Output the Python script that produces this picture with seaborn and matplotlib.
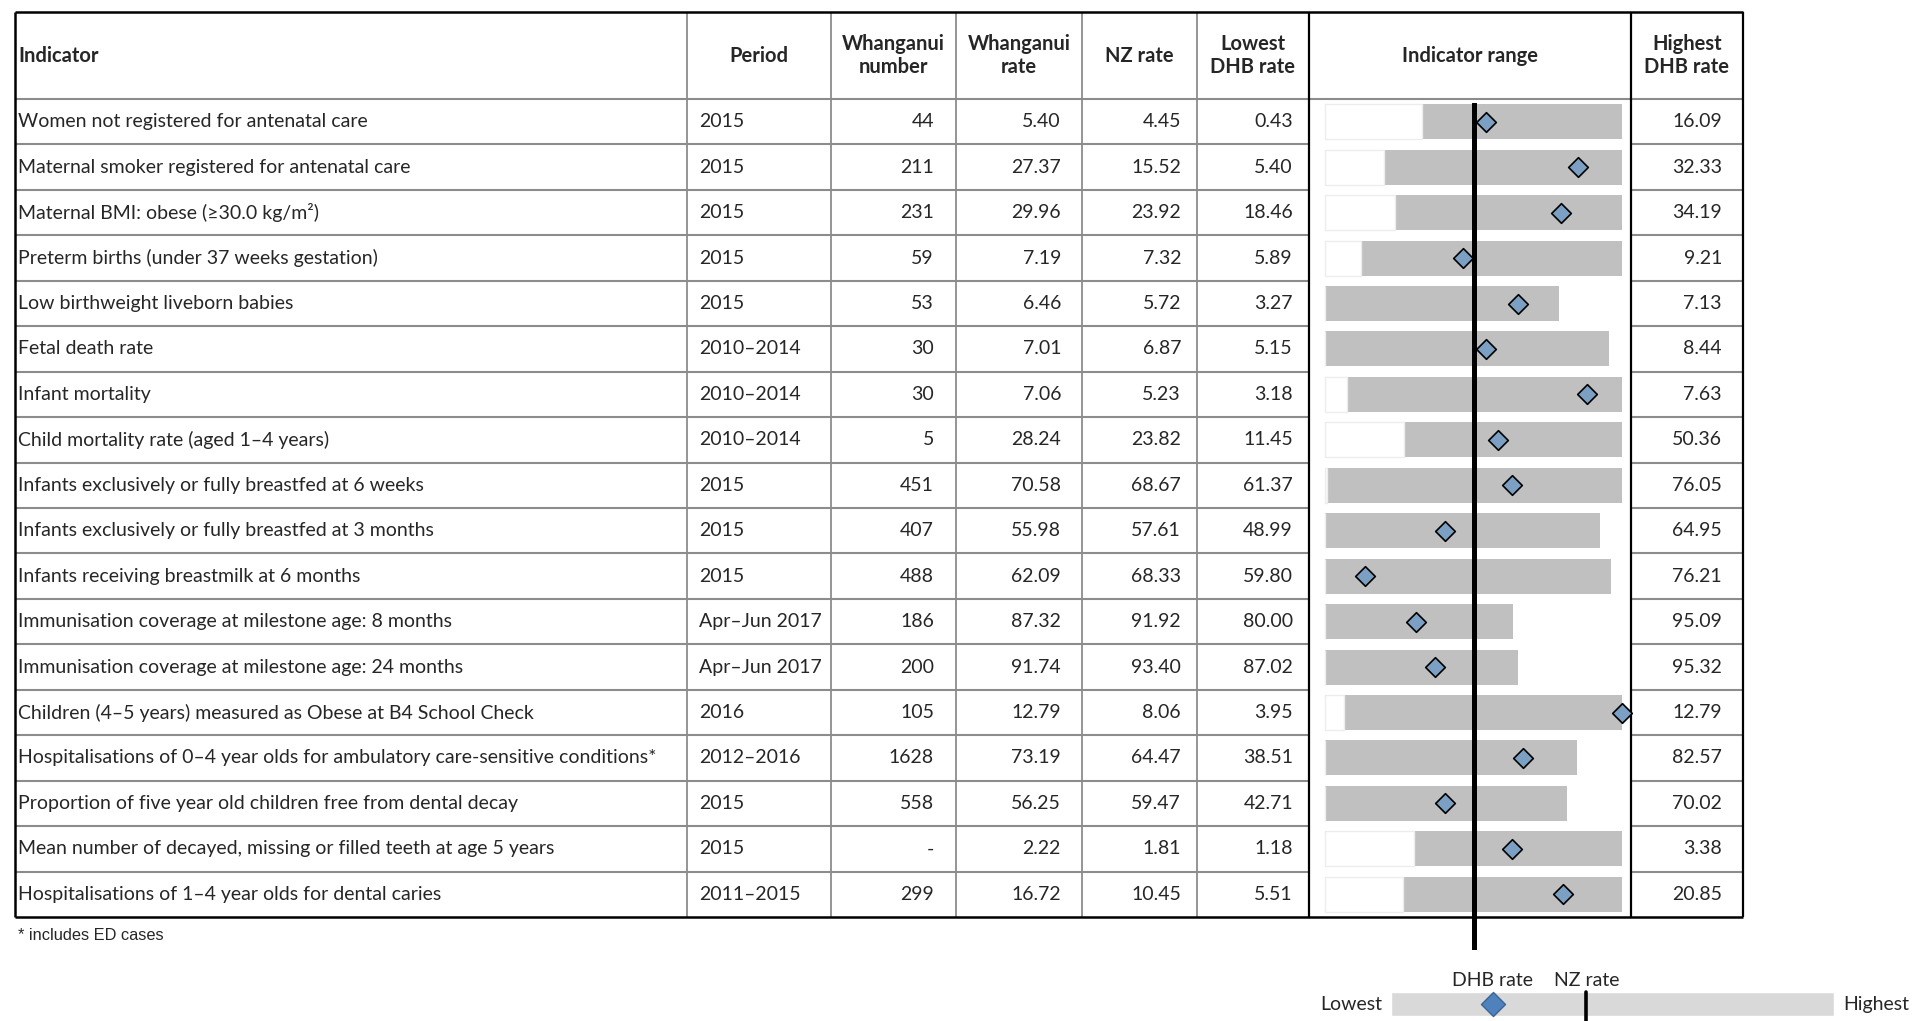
import numpy as np
import pandas as pd
import matplotlib
matplotlib.use('Agg')
import matplotlib.pyplot as plt
import seaborn as sns

# --- table data ---
indicators = [
    'Women not registered for antenatal care',
    'Maternal smoker registered for antenatal care',
    'Maternal BMI: obese (≥30.0 kg/m²)',
    'Preterm births (under 37 weeks gestation)',
    'Low birthweight liveborn babies',
    'Fetal death rate',
    'Infant mortality',
    'Child mortality rate (aged 1–4 years)',
    'Infants exclusively or fully breastfed at 6 weeks',
    'Infants exclusively or fully breastfed at 3 months',
    'Infants receiving breastmilk at 6 months',
    'Immunisation coverage at milestone age: 8 months',
    'Immunisation coverage at milestone age: 24 months',
    'Children (4–5 years) measured as Obese at B4 School Check',
    'Hospitalisations of 0–4 year olds for ambulatory care-sensitive conditions*',
    'Proportion of five year old children free from dental decay',
    'Mean number of decayed, missing or filled teeth at age 5 years',
    'Hospitalisations of 1–4 year olds for dental caries',
]
periods = ['2015', '2015', '2015', '2015', '2015', '2010–2014', '2010–2014', '2010–2014',
           '2015', '2015', '2015', 'Apr–Jun 2017', 'Apr–Jun 2017', '2016', '2012–2016',
           '2015', '2015', '2011–2015']
whanganui_number = ['44', '211', '231', '59', '53', '30', '30', '5', '451', '407', '488',
                    '186', '200', '105', '1628', '558', '-', '299']
whanganui_rate = [5.40, 27.37, 29.96, 7.19, 6.46, 7.01, 7.06, 28.24, 70.58, 55.98, 62.09,
                  87.32, 91.74, 12.79, 73.19, 56.25, 2.22, 16.72]
nz_rate = [4.45, 15.52, 23.92, 7.32, 5.72, 6.87, 5.23, 23.82, 68.67, 57.61, 68.33,
           91.92, 93.40, 8.06, 64.47, 59.47, 1.81, 10.45]
lowest_rate = [0.43, 5.40, 18.46, 5.89, 3.27, 5.15, 3.18, 11.45, 61.37, 48.99, 59.80,
               80.00, 87.02, 3.95, 38.51, 42.71, 1.18, 5.51]
highest_rate = [16.09, 32.33, 34.19, 9.21, 7.13, 8.44, 7.63, 50.36, 76.05, 64.95, 76.21,
                95.09, 95.32, 12.79, 82.57, 70.02, 3.38, 20.85]
headers = ['Indicator', 'Period', 'Whanganui\nnumber', 'Whanganui\nrate', 'NZ rate',
           'Lowest\nDHB rate', 'Indicator range', 'Highest\nDHB rate']
footnote = '* includes ED cases'

# legend key positions (fraction along the lowest-highest bar)
LEGEND_DHB = 0.23
LEGEND_NZ = 0.44

# spine chart: NZ rate in the middle, scale set by the larger distance to lowest/highest
df = pd.DataFrame({'row': np.arange(len(indicators)), 'rate': whanganui_rate,
                   'nz': nz_rate, 'low': lowest_rate, 'high': highest_rate})
half = np.maximum(df['nz'] - df['low'], df['high'] - df['nz'])
left = df['nz'] - half
df['lo_n'] = (df['low'] - left) / (2 * half)
df['hi_n'] = (df['high'] - left) / (2 * half)
df['dhb_n'] = (df['rate'] - left) / (2 * half)

sns.set_theme(style='white')
FONT = ['Lato', 'DejaVu Sans']
plt.rcParams['font.family'] = FONT

W, H = 1913, 1021
fig = plt.figure(figsize=(W / 100, H / 100), dpi=100)
ax = fig.add_axes([0, 0, 1, 1])
ax.set_xlim(0, W)
ax.set_ylim(H, 0)
ax.axis('off')

COL_EDGES = [15, 687, 831, 956, 1082, 1197, 1309, 1631, 1743]
TOP, HEAD_BOT, BOT = 12, 99, 917
ROW_H = (BOT - HEAD_BOT) / len(indicators)
GRID = '#8c8c8c'
FS = 14
HFS = 14.5

# grid lines
ax.hlines(HEAD_BOT, COL_EDGES[0], COL_EDGES[-1], color=GRID, lw=1.5)
for i in range(1, len(indicators)):
    y = HEAD_BOT + i * ROW_H
    ax.hlines(y, COL_EDGES[0], COL_EDGES[6], color=GRID, lw=1.5)
    ax.hlines(y, COL_EDGES[7], COL_EDGES[8], color=GRID, lw=1.5)
for x in COL_EDGES[1:6]:
    ax.vlines(x, TOP, BOT, color=GRID, lw=1.3)
for x in COL_EDGES[6:]:
    ax.vlines(x, TOP, BOT, color='black', lw=1.6)
ax.vlines(COL_EDGES[0], TOP, BOT, color='black', lw=1.8)
ax.hlines([TOP, BOT], COL_EDGES[0], COL_EDGES[-1], color='black', lw=1.8)

# header
head_y = (TOP + HEAD_BOT) / 2
ax.text(COL_EDGES[0] + 3, head_y, headers[0], ha='left', va='center',
        fontsize=HFS, fontweight='bold')
for j, h in enumerate(headers[1:], start=1):
    ax.text((COL_EDGES[j] + COL_EDGES[j + 1]) / 2, head_y, h, ha='center', va='center',
            fontsize=HFS, fontweight='bold', linespacing=1.15)

# body
num_pad = [22, 21, 16, 16]
for i in range(len(indicators)):
    y = HEAD_BOT + ROW_H * (i + 0.5)
    ax.text(COL_EDGES[0] + 3, y, indicators[i], ha='left', va='center', fontsize=FS)
    ax.text(COL_EDGES[1] + 12, y, periods[i], ha='left', va='center', fontsize=FS)
    vals = [whanganui_number[i], f'{whanganui_rate[i]:.2f}', f'{nz_rate[i]:.2f}',
            f'{lowest_rate[i]:.2f}']
    for k, v in enumerate(vals):
        ax.text(COL_EDGES[k + 3] - num_pad[k], y, v, ha='right', va='center', fontsize=FS)
    ax.text(COL_EDGES[8] - 21, y, f'{highest_rate[i]:.2f}', ha='right', va='center',
            fontsize=FS)

ax.text(COL_EDGES[0] + 3, 935, footnote, ha='left', va='center', fontsize=11.8,
        family='Liberation Sans')

# --- indicator range (spine) column ---
y_top, y_bot = 103, 950
x0, x1 = COL_EDGES[6], COL_EDGES[7]
bar_l, bar_r = 1325, 1622
ax_r = fig.add_axes([x0 / W, 1 - y_bot / H, (x1 - x0) / W, (y_bot - y_top) / H])
sns.barplot(data=df, x='hi_n', y='row', orient='h', color='#c0c0c0', saturation=1,
            width=0.77, ax=ax_r, linewidth=0)
sns.barplot(data=df, x='lo_n', y='row', orient='h', color='white', saturation=1,
            width=0.77, ax=ax_r, edgecolor='#ededed', linewidth=1)
ax_r.axvline(0.5, color='black', lw=3.6, zorder=3)
sns.scatterplot(data=df, x='dhb_n', y='row', marker='D', s=100, color='#7ba0c4',
                edgecolor='black', linewidth=1.2, ax=ax_r, zorder=4, clip_on=False)
px = bar_r - bar_l
ax_r.set_xlim(-(bar_l - x0) / px, 1 + (x1 - bar_r) / px)
ax_r.set_ylim((y_bot - HEAD_BOT) / ROW_H - 0.5, (y_top - HEAD_BOT) / ROW_H - 0.5)
ax_r.axis('off')

# --- legend key ---
lg_l, lg_r, lg_c = 1391, 1834, 1004
lg_top, lg_bot = 960, H
ax_l = fig.add_axes([lg_l / W, 0, (lg_r - lg_l) / W, (lg_bot - lg_top) / H])
ax_l.barh(0, 1, height=1, left=0, color='#d9d9d9')
ax_l.scatter(LEGEND_DHB, 0, marker='D', s=150, color='#4f81bd', edgecolor='#3a6597',
             linewidth=1, zorder=3)
ylo, yhi = -(lg_bot - lg_c) / 24, (lg_c - lg_top) / 24
ax_l.set_xlim(0, 1)
ax_l.set_ylim(ylo, yhi)
ax_l.axvline(LEGEND_NZ, ymin=0, ymax=(0.5 - ylo) / (yhi - ylo), color='black', lw=2.6)
ax_l.text(-0.02, 0, 'Lowest', ha='right', va='center', fontsize=FS, clip_on=False)
ax_l.text(1.02, 0, 'Highest', ha='left', va='center', fontsize=FS, clip_on=False)
ax_l.text(LEGEND_DHB, 1.0, 'DHB rate', ha='center', va='center', fontsize=FS)
ax_l.text(LEGEND_NZ + 0.003, 1.0, 'NZ rate', ha='center', va='center', fontsize=FS)
ax_l.axis('off')

fig.savefig('out.png', dpi=100)
